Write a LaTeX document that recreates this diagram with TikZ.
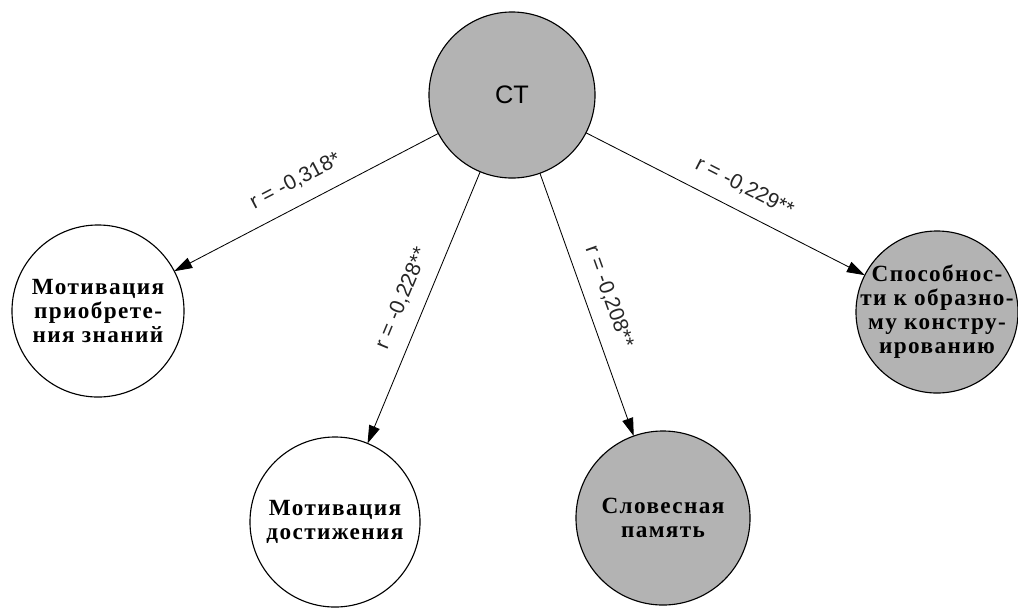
\documentclass[tikz,border=0pt]{standalone}
\usepackage{fontspec}
\setmainfont{Liberation Serif}
\newfontfamily\labfont{Liberation Sans}
\newfontfamily\circfont[LetterSpace=6]{Liberation Serif}
\usepackage{tikz}
\usetikzlibrary{arrows.meta}
\definecolor{ctgray}{RGB}{179,179,179}

\begin{document}
\begin{tikzpicture}[x=0.025cm, y=-0.025cm,
    bubble/.style={draw, circle, line width=0.8pt, inner sep=0pt, outer sep=0pt},
    txt/.style={align=center, font=\circfont\bfseries\fontsize{16.5}{17}\selectfont},
    arr/.style={-{Triangle[length=4.5mm, width=2.8mm]}, line width=0.6pt},
    rlab/.style={font=\labfont\fontsize{15}{17}\selectfont, text=black!85, sloped, above=7pt}
]
\useasboundingbox (0,0) rectangle (1018,607);

\node[bubble, fill=ctgray, minimum size=4.15cm, font=\labfont\fontsize{18}{20}\selectfont] (ct) at (512,95) {CT};
\node[bubble, fill=white, minimum size=4.3cm] (mpz) at (98,311) {};
\node[txt] (mpz-t) at (mpz) {Мотивация\\приобрете-\\ния знаний};
\node[bubble, fill=white, minimum size=4.25cm, txt] (md) at (335,522) {Мотивация\\достижения};
\node[bubble, fill=ctgray, minimum size=4.35cm, txt] (sp) at (663,518) {Словесная\\память};
\node[bubble, fill=ctgray, minimum size=4.05cm] (sk) at (937,312) {};
\node[txt] (sk-t) at (sk) {Способнос-\\ти к образно-\\му констру-\\ированию};

\draw[arr] (ct) -- (mpz) node[midway, rlab] {r = -0,318*};
\draw[arr] (ct) -- (md) node[midway, rlab] {r = -0,228**};
\draw[arr] (ct) -- (sp) node[midway, rlab] {r = -0,208**};
\draw[arr] (ct) -- (sk) node[pos=0.53, rlab] {r = -0,229**};
\end{tikzpicture}
\end{document}
